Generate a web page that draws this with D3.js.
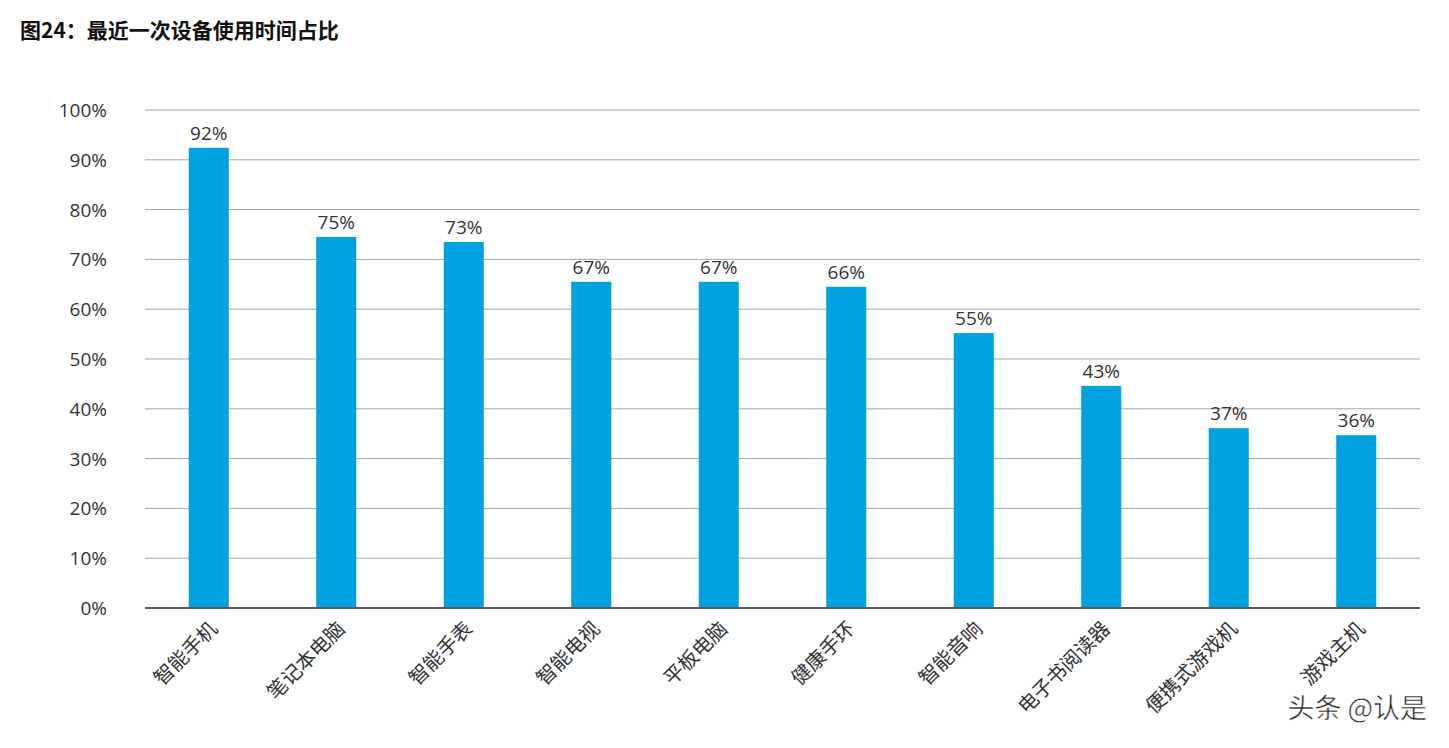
<!DOCTYPE html>
<html><head><meta charset="utf-8">
<script src="https://cdn.jsdelivr.net/npm/d3@7"></script>
<style>body{margin:0;background:#fff;font-family:"Open Sans","Noto Sans CJK SC",sans-serif}</style>
</head><body><svg id="c" width="1449" height="748"></svg>
<script>
const categories=["智能手机","笔记本电脑","智能手表","智能电视","平板电脑","健康手环","智能音响","电子书阅读器","便携式游戏机","游戏主机"];
const values=[92.4,74.5,73.5,65.5,65.5,64.5,55.2,44.6,36.1,34.7];
const valueLabels=["92%","75%","73%","67%","67%","66%","55%","43%","37%","36%"];
const yTicks=[0,10,20,30,40,50,60,70,80,90,100];
const svg=d3.select("#c");
const L=145,R=1420,T=110,B=608;
const x=d3.scaleBand().domain(categories).range([L,R]).paddingInner(0.686).paddingOuter(0.343);
const y=d3.scaleLinear().domain([0,100]).range([B,T]);
svg.append("text").attr("x",20).attr("y",38).attr("font-size",21).attr("font-weight","bold")
 .attr("font-family","Noto Sans CJK SC").attr("fill","#111").text("图24：最近一次设备使用时间占比");
const g=svg.append("g");
g.selectAll("line.grid").data(yTicks.slice(1)).join("line").attr("x1",L).attr("x2",R)
 .attr("y1",d=>y(d)).attr("y2",d=>y(d)).attr("stroke","#a6a6a6").attr("stroke-width",1);
g.selectAll("text.yt").data(yTicks).join("text").attr("x",107).attr("y",d=>y(d)+7)
 .attr("text-anchor","end").attr("font-size",19).attr("fill","#333").text(d=>d+"%");
g.selectAll("rect").data(values).join("rect").attr("x",(d,i)=>x(categories[i])).attr("width",x.bandwidth())
 .attr("y",d=>y(d)).attr("height",d=>B-y(d)).attr("fill","#00a1e0");
g.selectAll("text.vl").data(values).join("text").attr("x",(d,i)=>x(categories[i])+x.bandwidth()/2)
 .attr("y",d=>y(d)-8).attr("text-anchor","middle").attr("font-size",19).attr("fill","#333").text((d,i)=>valueLabels[i]);
g.append("line").attr("x1",L).attr("x2",R).attr("y1",B).attr("y2",B).attr("stroke","#595959").attr("stroke-width",2);
g.selectAll("text.xl").data(categories).join("text")
 .attr("transform",d=>`translate(${x(d)+x.bandwidth()/2+10},${B+22}) rotate(-45)`)
 .attr("text-anchor","end").attr("font-size",20).attr("font-family","Noto Sans CJK SC").attr("fill","#333").text(d=>d);
svg.append("text").attr("x",1427).attr("y",718).attr("text-anchor","end").attr("font-size",27)
 .attr("font-family","Noto Sans CJK SC").attr("fill","#222").attr("stroke","#fff").attr("stroke-width",0.5).text("头条 @认是");
</script></body></html>
